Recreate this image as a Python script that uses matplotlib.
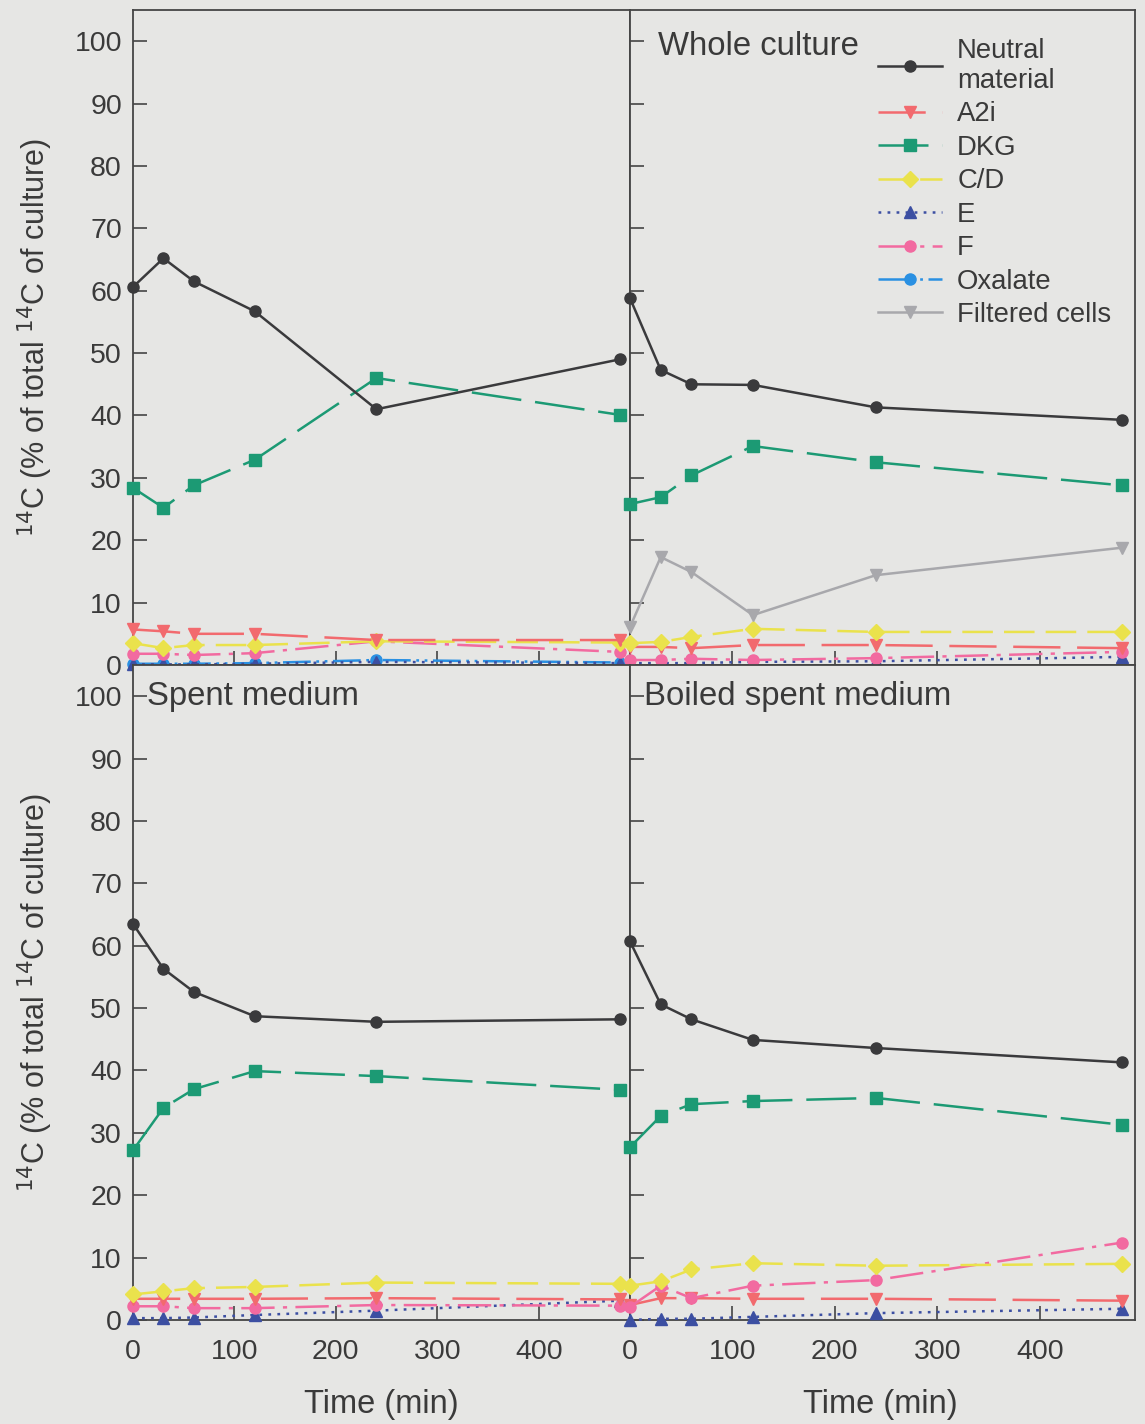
import matplotlib
matplotlib.use("Agg")
import matplotlib.pyplot as plt
from matplotlib.lines import Line2D

plt.rcParams['font.family'] = ['Liberation Sans', 'DejaVu Sans']
plt.rcParams['lines.scale_dashes'] = False

# Sampling times (min)
time = [0, 30, 60, 120, 240, 480]

# Upper-left panel
ul_neutral = [60.6, 65.2, 61.5, 56.7, 41.0, 49.0]
ul_a2i = [5.7, 5.4, 5.0, 5.0, 4.0, 4.0]
ul_dkg = [28.4, 25.2, 28.8, 32.9, 46.0, 40.1]
ul_cd = [3.5, 2.7, 3.2, 3.2, 3.8, 3.6]
ul_e = [0.1, 0.1, 0.1, 0.2, 0.5, 0.3]
ul_f = [1.8, 1.8, 1.6, 1.9, 3.8, 2.1]
ul_oxalate = [0.2, 0.2, 0.2, 0.3, 0.8, 0.4]

# Whole culture
wc_neutral = [58.8, 47.3, 45.0, 44.9, 41.3, 39.3]
wc_a2i = [2.9, 2.9, 2.7, 3.2, 3.2, 2.7]
wc_dkg = [25.8, 26.9, 30.4, 35.1, 32.5, 28.8]
wc_cd = [3.5, 3.7, 4.5, 5.8, 5.3, 5.3]
wc_e = [0.3, 0.3, 0.3, 0.5, 0.6, 1.3]
wc_f = [0.8, 0.8, 1.0, 0.8, 1.1, 2.1]
wc_filtered = [6.1, 17.3, 14.9, 8.0, 14.4, 18.8]

# Spent medium
sm_neutral = [63.5, 56.3, 52.6, 48.7, 47.8, 48.2]
sm_a2i = [3.4, 3.4, 3.4, 3.4, 3.5, 3.3]
sm_dkg = [27.2, 34.0, 37.0, 39.9, 39.1, 36.9]
sm_cd = [4.1, 4.6, 5.1, 5.3, 6.0, 5.8]
sm_e = [0.3, 0.3, 0.4, 0.8, 1.5, 3.1]
sm_f = [2.2, 2.2, 1.9, 1.9, 2.4, 2.3]

# Boiled spent medium
bm_neutral = [60.7, 50.6, 48.2, 44.9, 43.6, 41.3]
bm_a2i = [2.4, 3.5, 3.5, 3.4, 3.4, 3.1]
bm_dkg = [27.7, 32.7, 34.6, 35.1, 35.6, 31.3]
bm_cd = [5.5, 6.2, 8.1, 9.1, 8.7, 9.0]
bm_e = [0.0, 0.2, 0.2, 0.5, 1.1, 1.8]
bm_f = [2.1, 5.5, 3.5, 5.5, 6.4, 12.4]

series_names = ["Neutral\nmaterial", "A2i", "DKG", "C/D", "E", "F",
                "Oxalate", "Filtered cells"]

styles = {
    "Neutral\nmaterial": dict(color="#3a3a3c", marker="o", ls="-"),
    "A2i": dict(color="#f26a6e", marker="v", dashes=(34, 12)),
    "DKG": dict(color="#1c9a74", marker="s", dashes=(36, 10)),
    "C/D": dict(color="#eae24c", marker="D", dashes=(22, 8)),
    "E": dict(color="#3c4fa2", marker="^", dashes=(2, 4.5)),
    "F": dict(color="#f26aa0", marker="o", dashes=(24, 6, 3, 6)),
    "Oxalate": dict(color="#2a90e2", marker="o", dashes=(20, 4, 2, 4, 2, 4)),
    "Filtered cells": dict(color="#a8a8ac", marker="v", ls="-"),
}

panels = [
    dict(title=None, tx=0.03, ty=0.97,
         data={"Oxalate": ul_oxalate, "E": ul_e, "F": ul_f, "C/D": ul_cd,
               "A2i": ul_a2i, "DKG": ul_dkg, "Neutral\nmaterial": ul_neutral}),
    dict(title="Whole culture", tx=0.056, ty=0.968,
         data={"E": wc_e, "F": wc_f, "A2i": wc_a2i, "C/D": wc_cd,
               "Filtered cells": wc_filtered, "DKG": wc_dkg,
               "Neutral\nmaterial": wc_neutral}),
    dict(title="Spent medium", tx=0.028, ty=0.976,
         data={"E": sm_e, "F": sm_f, "A2i": sm_a2i, "C/D": sm_cd,
               "DKG": sm_dkg, "Neutral\nmaterial": sm_neutral}),
    dict(title="Boiled spent medium", tx=0.028, ty=0.976,
         data={"E": bm_e, "A2i": bm_a2i, "F": bm_f, "C/D": bm_cd,
               "DKG": bm_dkg, "Neutral\nmaterial": bm_neutral}),
]

bg = "#e6e6e4"
spine_col = "#454545"
text_col = "#3a3a3a"

fig = plt.figure(figsize=(11.45, 14.24), dpi=100, facecolor=bg)

W, H = 1145.0, 1424.0
xl = [(133, 630), (630, 1135)]
yl = [(10, 665), (665, 1320)]
xmax = [490, 493]

axes = []
for r in range(2):
    for c in range(2):
        x0, x1 = xl[c]
        y0, y1 = yl[r]
        ax = fig.add_axes([x0 / W, 1 - y1 / H, (x1 - x0) / W, (y1 - y0) / H])
        ax.set_facecolor(bg)
        ax.set_xlim(0, xmax[c])
        ax.set_ylim(0, 105)
        ax.set_xticks([0, 100, 200, 300, 400])
        ax.set_yticks(range(0, 101, 10))
        ax.tick_params(direction="in", length=10, width=1.2, color=spine_col,
                       labelsize=20.5, labelcolor=text_col, pad=8)
        ax.tick_params(axis="x", pad=14)
        if c == 1:
            ax.tick_params(labelleft=False)
        if r == 0:
            ax.tick_params(labelbottom=False)
        for s in ax.spines.values():
            s.set_color(spine_col)
            s.set_linewidth(1.3)
        axes.append(ax)

for ax, p in zip(axes, panels):
    for name, vals in p["data"].items():
        st = dict(styles[name])
        ls = st.pop("ls", None)
        dashes = st.pop("dashes", None)
        ln, = ax.plot(time, vals, lw=1.8, ms=8, mec=st["color"], clip_on=False,
                      zorder=3, **st)
        if dashes is not None:
            ln.set_dashes(dashes)
        else:
            ln.set_linestyle(ls)
    if p["title"]:
        ax.text(p["tx"], p["ty"], p["title"], transform=ax.transAxes,
                ha="left", va="top", fontsize=23.7, color=text_col)

# Legend for the whole-culture panel
handles = []
for name in series_names:
    st = dict(styles[name])
    ls = st.pop("ls", None)
    dashes = st.pop("dashes", None)
    h = Line2D([], [], lw=1.8, ms=8, mec=st["color"], **st)
    if dashes is not None:
        h.set_dashes(dashes)
    else:
        h.set_linestyle(ls)
    handles.append(h)

leg = axes[1].legend(handles, series_names, loc="upper left",
                     bbox_to_anchor=((878 - 630) / 505.0, 1 - 28 / 655.0),
                     frameon=False, fontsize=19.8,
                     handlelength=2.33, handletextpad=0.55, labelspacing=0.27,
                     borderaxespad=0.0, borderpad=0.0, markerscale=1.0)
for t in leg.get_texts():
    t.set_color(text_col)

ylabel = "$^{14}$C (% of total $^{14}$C of culture)"
fig.text(35 / W, 1 - 337 / H, ylabel, rotation=90, ha="center", va="center",
         fontsize=22, color=text_col)
fig.text(35 / W, 1 - 992 / H, ylabel, rotation=90, ha="center", va="center",
         fontsize=22, color=text_col)
fig.text(381 / W, 1 - 1404 / H, "Time (min)", ha="center", va="center",
         fontsize=23.5, color=text_col)
fig.text(880 / W, 1 - 1404 / H, "Time (min)", ha="center", va="center",
         fontsize=23.5, color=text_col)

fig.savefig("out.png", dpi=100, facecolor=bg)
